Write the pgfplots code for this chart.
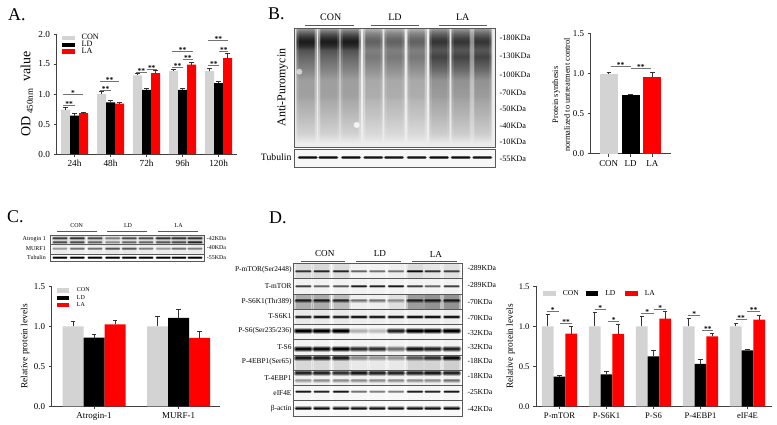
\documentclass[border=0pt]{standalone}
\usepackage{fontspec}
\setmainfont{Liberation Serif}
\usepackage{pgfplots}
\pgfplotsset{compat=1.18}

\definecolor{congray}{HTML}{D3D3D3}
\definecolor{lared}{HTML}{FF0000}
\definecolor{axc}{gray}{0.25}
\definecolor{sigc}{gray}{0.45}
\definecolor{framec}{gray}{0.35}

\newcommand\fs[1]{\fontsize{#1}{#1}\selectfont}

% gel lane profiles for the puromycin blot, 25bp..75bp is bottom..top of the lane
\pgfdeclareverticalshading{laneCON}{100bp}{gray(0bp)=(.93); gray(25bp)=(.93); gray(26.7bp)=(.93); gray(30.9bp)=(.82); gray(39.3bp)=(.72); gray(44.9bp)=(.66); gray(46.3bp)=(.63); gray(53.3bp)=(.62); gray(57.5bp)=(.52); gray(60.3bp)=(.46); gray(63.1bp)=(.40); gray(65.9bp)=(.32); gray(67.5bp)=(.18); gray(69.4bp)=(.10); gray(71bp)=(.18); gray(72.9bp)=(.35); gray(75bp)=(.60); gray(100bp)=(.60)}
\pgfdeclareverticalshading{laneLD}{100bp}{gray(0bp)=(.93); gray(25bp)=(.93); gray(26.7bp)=(.93); gray(30.9bp)=(.85); gray(39.3bp)=(.76); gray(44.9bp)=(.71); gray(46.3bp)=(.68); gray(53.3bp)=(.66); gray(57.5bp)=(.57); gray(60.3bp)=(.52); gray(63.1bp)=(.47); gray(65.9bp)=(.50); gray(67.5bp)=(.44); gray(69.4bp)=(.38); gray(71bp)=(.42); gray(72.9bp)=(.52); gray(75bp)=(.70); gray(100bp)=(.70)}
\pgfdeclareverticalshading{laneLA}{100bp}{gray(0bp)=(.92); gray(25bp)=(.92); gray(26.7bp)=(.92); gray(30.9bp)=(.80); gray(39.3bp)=(.70); gray(44.9bp)=(.64); gray(46.3bp)=(.61); gray(53.3bp)=(.57); gray(57.5bp)=(.42); gray(60.3bp)=(.34); gray(63.1bp)=(.26); gray(65.9bp)=(.34); gray(67.5bp)=(.28); gray(69.4bp)=(.20); gray(71bp)=(.26); gray(72.9bp)=(.40); gray(75bp)=(.60); gray(100bp)=(.60)}

% blurred band: three strokes of growing width
\newcommand\band[5]{%
  \definecolor{bandc}{gray}{#5}%
  \draw[bandc,line cap=round,opacity=.30,line width=#4*1.9bp] (#1-#3,#2)--(#1+#3,#2);
  \draw[bandc,line cap=round,opacity=.55,line width=#4*1.3bp] (#1-#3,#2)--(#1+#3,#2);
  \draw[bandc,line cap=round,line width=#4*.7bp] (#1-#3,#2)--(#1+#3,#2);
}
% #1 y, #2 half width, #3 thickness, #4 nine grays; lane centres in \lanes
\newcommand\bandrow[4]{%
  \foreach \g [count=\i from 0] in {#4} {
    \pgfmathsetmacro\cx{\lanes[\i]}
    \band{\cx}{#1}{#2}{#3}{\g}
  }
}
% #1 top, #2 bottom, #3 half width, #4 nine grays
\newcommand\rowbg[4]{%
  \foreach \g [count=\i from 0] in {#4} {
    \pgfmathsetmacro\cx{\lanes[\i]}
    \definecolor{bandc}{gray}{\g}
    \fill[bandc,opacity=.5] (\cx-#3-1,#1) rectangle (\cx+#3+1,#2);
    \fill[bandc,opacity=.7] (\cx-#3+1,#1) rectangle (\cx+#3-1,#2);
  }
}
\newcommand\blane[3]{%
  \shade[shading=#1,opacity=.5] (#2-1.5,28.3) rectangle (#3+1.5,147.3);
  \shade[shading=#1,opacity=.7] (#2,28.3) rectangle (#3,147.3);
  \shade[shading=#1] (#2+1.5,28.3) rectangle (#3-1.5,147.3);
}

\newcommand\sig[4]{\draw[sigc,line width=.6bp] (axis cs:#1,#3)--(axis cs:#2,#3) node[midway,above=-1.5bp,inner sep=0pt,text=black,font=\fs{7.5}\bfseries]{#4};}

\pgfplotsset{
  barax/.style={scale only axis,clip=false,axis x line=bottom,axis y line=left,
    axis line style={-,line width=.8bp,color=axc},
    tick style={line width=.7bp,color=axc},
    major tick length=3bp,tick align=outside,ymin=0,
    /pgf/number format/assume math mode=true,
    /pgf/number format/fixed,/pgf/number format/fixed zerofill,/pgf/number format/precision=1,
    legend cell align=left,
    legend image code/.code={\fill[##1,draw=none] (0bp,-2.2bp) rectangle (12.5bp,2.2bp);},
  },
  errs/.style={draw=none,error bars/y dir=plus,error bars/y explicit,
    error bars/error bar style={line width=.7bp,color=black!80},
    error bars/error mark options={rotate=90,mark size=2.2bp,line width=.7bp,color=black!80}},
}

\begin{document}
\begin{tikzpicture}
\path[use as bounding box] (0,0) rectangle (777bp,-425bp);

% ---------- A ----------
\begin{axis}[ybar=0pt,barax,at={(56.5bp,-154bp)},anchor=south west,width=180.5bp,height=120bp,
  ymax=2,ytick={0,0.5,1,1.5,2},xmin=-0.5,xmax=4.51,xtick={0,...,4},
  xticklabels={24h,48h,72h,96h,120h},tick label style={font=\fs{9.3}},
  ylabel={OD\,\raisebox{-2.5bp}{\fs{9}450nm}\ \ value},
  ylabel style={at={(axis description cs:-0.165,0.5)},anchor=center,font=\fs{14}},
  bar width=9bp,
  legend style={at={(0.03,1.005)},anchor=north west,draw=none,fill=none,inner sep=0pt,font=\fs{8.2},row sep=-1.6bp,
    nodes={inner xsep=3bp,inner ysep=0.8bp}},
]
\addplot[errs,fill=congray] coordinates {(0,0.74)+-(0,0.03) (1,1.00)+-(0,0.05) (2,1.31)+-(0,0.03) (3,1.38)+-(0,0.03) (4,1.38)+-(0,0.05)};
\addlegendentry{\hspace{4bp}CON}
\addplot[errs,fill=black] coordinates {(0,0.64)+-(0,0.03) (1,0.86)+-(0,0.03) (2,1.07)+-(0,0.03) (3,1.07)+-(0,0.03) (4,1.18)+-(0,0.03)};
\addlegendentry{\hspace{4bp}LD}
\addplot[errs,fill=lared] coordinates {(0,0.68)+-(0,0.01) (1,0.84)+-(0,0.02) (2,1.35)+-(0,0.04) (3,1.49)+-(0,0.03) (4,1.60)+-(0,0.07)};
\addlegendentry{\hspace{4bp}LA}
\sig{-0.31}{0.014}{0.817}{**}
\sig{-0.31}{0.227}{0.99}{*}
\sig{0.708}{1.014}{1.055}{**}
\sig{0.708}{1.236}{1.205}{**}
\sig{1.708}{2.005}{1.355}{**}
\sig{2.005}{2.282}{1.41}{**}
\sig{2.718}{3.005}{1.44}{**}
\sig{3.005}{3.282}{1.578}{**}
\sig{2.718}{3.282}{1.717}{**}
\sig{3.718}{4.014}{1.483}{**}
\sig{4.014}{4.273}{1.717}{**}
\sig{3.718}{4.273}{1.9}{**}
\end{axis}

% ---------- B bars ----------
\begin{axis}[ybar,barax,at={(590.7bp,-153.7bp)},anchor=south west,width=80bp,height=120bp,
  ymax=1.5,ytick={0,0.5,1,1.5},xmin=-0.826,xmax=2.84,xtick={0,1,2},
  xticklabels={CON,LD,LA},tick label style={font=\fs{9}},bar width=18bp,
  ylabel={\shortstack{Protein synthesis\\[1bp]normalized to untreatment control}},
  ylabel style={at={(axis description cs:-0.37,0.49)},anchor=center,font=\fs{8.4}},
]
\addplot[errs,fill=congray,bar shift=0bp] coordinates {(0,1.00)+-(0,0.015)};
\addplot[errs,fill=black,bar shift=0bp] coordinates {(1,0.735)+-(0,0.01)};
\addplot[errs,fill=lared,bar shift=0bp] coordinates {(2,0.965)+-(0,0.055)};
\sig{0.09}{1.008}{1.09}{**}
\sig{1.02}{1.925}{1.0625}{**}
\end{axis}

% ---------- C bars ----------
\begin{axis}[ybar=0pt,barax,at={(51.7bp,-406.3bp)},anchor=south west,width=168.3bp,height=120bp,
  ymax=1.5,ytick={0,0.5,1,1.5},xmin=-0.5,xmax=1.488,xtick={0,1},
  xticklabels={Atrogin-1,MURF-1},tick label style={font=\fs{9}},bar width=21bp,
  ylabel={Relative protein levels},
  ylabel style={at={(axis description cs:-0.158,0.5)},anchor=center,font=\fs{9.4}},
  legend style={at={(0.03,0.995)},anchor=north west,draw=none,fill=none,inner sep=0pt,font=\fs{6},row sep=0.3bp,
    nodes={inner xsep=3.5bp,inner ysep=0.8bp}},
]
\addplot[errs,fill=congray] coordinates {(0,1.00)+-(0,0.06) (1,1.00)+-(0,0.125)};
\addlegendentry{\hspace{4bp}CON}
\addplot[errs,fill=black] coordinates {(0,0.86)+-(0,0.04) (1,1.105)+-(0,0.11)};
\addlegendentry{\hspace{4bp}LD}
\addplot[errs,fill=lared] coordinates {(0,1.025)+-(0,0.055) (1,0.855)+-(0,0.08)};
\addlegendentry{\hspace{4bp}LA}
\end{axis}

% ---------- D bars ----------
\begin{axis}[ybar=0pt,barax,at={(536bp,-406.3bp)},anchor=south west,width=235.7bp,height=120bp,
  ymax=1.5,ytick={0,0.5,1,1.5},xmin=-0.5,xmax=4.515,xtick={0,...,4},
  xticklabels={P-mTOR,P-S6K1,P-S6,P-4EBP1,eIF4E},tick label style={font=\fs{8.6}},bar width=11.7bp,
  ylabel={Relative protein levels},
  ylabel style={at={(axis description cs:-0.108,0.5)},anchor=center,font=\fs{9.4}},
  legend columns=3,
  legend style={at={(0.03,0.975)},anchor=north west,draw=none,fill=none,inner sep=0pt,font=\fs{7.6},
    /tikz/column 2/.style={column sep=3.5bp},/tikz/column 4/.style={column sep=6.5bp},
    nodes={inner xsep=3.5bp,inner ysep=0.8bp}},
]
\addplot[errs,fill=congray] coordinates {(0,1)+-(0,0.15) (1,1)+-(0,0.18) (2,1)+-(0,0.12) (3,1)+-(0,0.10) (4,1)+-(0,0.04)};
\addlegendentry{\hspace{3.5bp}CON}
\addplot[errs,fill=black] coordinates {(0,0.37)+-(0,0.02) (1,0.40)+-(0,0.04) (2,0.625)+-(0,0.07) (3,0.53)+-(0,0.06) (4,0.70)+-(0,0.015)};
\addlegendentry{\hspace{3.5bp}LD}
\addplot[errs,fill=lared] coordinates {(0,0.91)+-(0,0.09) (1,0.905)+-(0,0.125) (2,1.095)+-(0,0.095) (3,0.875)+-(0,0.04) (4,1.085)+-(0,0.055)};
\addlegendentry{\hspace{3.5bp}LA}
\sig{-0.273}{-0.011}{1.183}{*}
\sig{0.011}{0.266}{1.0375}{**}
\sig{0.748}{0.989}{1.217}{*}
\sig{1.039}{1.273}{1.067}{*}
\sig{1.734}{2.004}{1.158}{*}
\sig{2.018}{2.266}{1.2125}{*}
\sig{2.741}{2.989}{1.142}{*}
\sig{3.039}{3.273}{0.95}{**}
\sig{3.748}{3.982}{1.0875}{**}
\sig{3.996}{4.266}{1.19}{**}
\end{axis}

% ---------- blots and panel text, in image pixels with y downward ----------
\begin{scope}[x=1bp,y=-1bp]
\node[anchor=base west,inner sep=0pt,font=\fs{18}] at (8,20) {A.};
\node[anchor=base west,inner sep=0pt,font=\fs{18}] at (268,19) {B.};
\node[anchor=base west,inner sep=0pt,font=\fs{18}] at (7,222) {C.};
\node[anchor=base west,inner sep=0pt,font=\fs{18}] at (269,223) {D.};

% B: puromycin blot
\fill[gray!14] (294,28.3) rectangle (495,147.3);
\blane{laneCON}{297.3}{315}
\blane{laneCON}{320}{338.3}
\blane{laneCON}{341.7}{359}
\blane{laneLD}{365}{381.7}
\blane{laneLD}{385.7}{403.3}
\blane{laneLD}{408.3}{425}
\blane{laneLA}{430.7}{448.3}
\blane{laneLA}{452.3}{470}
\blane{laneLA}{474}{490.7}
\fill[white,opacity=.6] (299.3,71.7) circle (3);
\fill[white,opacity=.8] (356.7,125) circle (3);
\draw[framec,line width=.8bp] (294,28.3) rectangle (495,147.3);
\fill[gray!6] (294,149) rectangle (495,167.3);
\def\lanes{{307.7,328.3,351,373.3,394,416.7,439,460.7,482.3}}
\bandrow{157.5}{8.5}{2}{.05,.05,.05,.08,.08,.08,.05,.05,.08}
\draw[framec,line width=.8bp] (294,149) rectangle (495,167.3);
\foreach \a/\b in {305/354,370.7/419.3,439.3/487.3} \draw[framec,line width=.9bp] (\a,25)--(\b,25);
\node[font=\fs{10}] at (330.7,17.3) {CON};
\node[font=\fs{10}] at (395,17.3) {LD};
\node[font=\fs{10}] at (462.7,17.3) {LA};
\foreach \t/\y in {180/37.3,130/56,100/74.7,70/92.3,50/108.3,40/126,10/141.7,55/159}
  \node[anchor=west,inner sep=0pt,font=\fs{8.3}] at (499.3,\y) {-\t KDa};
\node[rotate=90,font=\fs{12}] at (282.7,87.5) {Anti-Puromycin};
\node[anchor=east,inner sep=0pt,font=\fs{9.8}] at (291.7,157.3) {Tubulin};

% C: small blot
\fill[gray!4] (50.7,235) rectangle (204,261.7);
\def\lanes{{60,77.3,95,112.7,129.3,146,163.3,179,195}}
\rowbg{235}{244.3}{7.5}{.8,.78,.8,.86,.84,.84,.78,.76,.76}
\bandrow{238.3}{6.5}{1.7}{.25,.2,.3,.5,.3,.3,.2,.2,.2}
\bandrow{242.3}{6.5}{1.4}{.3,.3,.4,.55,.4,.4,.35,.3,.15}
\rowbg{244.3}{254}{7.5}{.92,.92,.92,.9,.9,.92,.92,.92,.92}
\bandrow{248.7}{6.5}{1.5}{.6,.45,.45,.35,.35,.5,.6,.45,.5}
\bandrow{257.7}{6.5}{1.4}{0,0,0,0,0,0,0,0,0}
\foreach \y in {235,244.3,254,261.7} \draw[framec,line width=.6bp] (50.7,\y)--(204,\y);
\foreach \x in {50.7,204} \draw[framec,line width=.6bp] (\x,235)--(\x,261.7);
\foreach \a/\b in {57.3/97.3,107.3/147.3,157.7/198.3} \draw[framec,line width=.7bp] (\a,231)--(\b,231);
\node[font=\fs{6}] at (76.7,225.7) {CON};
\node[font=\fs{6}] at (128,225.7) {LD};
\node[font=\fs{6}] at (178.7,225.7) {LA};
\foreach \t/\y in {Atrogin 1/239.5,MURF1/248.7,Tubulin/257.7}
  \node[anchor=east,inner sep=0pt,font=\fs{6}] at (46,\y) {\t};
\foreach \t/\y in {42/239,40/248,55/257.5}
  \node[anchor=west,inner sep=0pt,font=\fs{6}] at (206.7,\y) {-\t KDa};

% D: signalling blots
\def\lanes{{303.3,321.7,341,359,377.3,396,415,432.7,451.7}}
\rowbg{263.3}{278.7}{8.5}{.84,.82,.84,.94,.94,.92,.84,.88,.86}
\bandrow{271.3}{7}{1.7}{.2,.15,.15,.4,.45,.45,.05,.2,.25}
\rowbg{278.7}{294}{8.5}{.94,.94,.94,.94,.94,.94,.94,.94,.94}
\bandrow{286.3}{7}{1.6}{.25,.4,.35,.12,.15,.1,.25,.4,.25}
\rowbg{294}{309}{8.5}{.62,.62,.7,.92,.92,.86,.55,.5,.5}
\bandrow{300.7}{7}{2.2}{.1,.1,.15,.45,.45,.55,.12,.1,.1}
\rowbg{309}{324}{8.5}{.9,.9,.9,.92,.92,.92,.92,.92,.92}
\bandrow{317}{7}{2}{.15,.1,.15,.1,.12,.12,.08,.08,.1}
\rowbg{324}{339}{8.5}{.95,.95,.95,.96,.96,.96,.95,.95,.95}
\bandrow{330.7}{7}{3}{0,0,0,.7,.75,.15,0,0,0}
\rowbg{339}{355}{8.5}{.94,.94,.94,.94,.94,.94,.94,.94,.94}
\bandrow{349}{7}{3}{.05,.05,.02,.2,.2,.45,.1,.15,.15}
\rowbg{355}{370}{8.5}{.82,.82,.82,.9,.9,.9,.8,.8,.78}
\bandrow{358.3}{7}{2.8}{.1,.12,.12,.55,.6,.6,.35,.2,.05}
\rowbg{370}{385}{8.5}{.93,.93,.93,.93,.93,.93,.93,.93,.93}
\bandrow{373.3}{7}{2.8}{.15,.15,.2,.1,.15,.15,.15,.1,.15}
\bandrow{380.7}{7}{2.2}{.6,.55,.55,.55,.55,.55,.55,.55,.45}
\rowbg{385}{400.7}{8.5}{.96,.96,.96,.97,.97,.97,.96,.96,.96}
\bandrow{391.7}{7}{1.6}{.1,.15,.1,.45,.5,.5,.12,.15,.1}
\rowbg{400.7}{416}{8.5}{.97,.97,.97,.97,.97,.97,.97,.97,.97}
\bandrow{408.3}{7}{2}{.05,.05,.08,.08,.08,.08,.08,.08,.05}
\foreach \y in {263.3,278.7,294,309,324,339,355,370,385,400.7,416}
  \draw[framec,line width=.8bp] (293.3,\y)--(462.7,\y);
\foreach \x in {293.3,462.7} \draw[framec,line width=.8bp] (\x,263.3)--(\x,416);
\foreach \a/\b in {301/345.3,356/401,412.3/457.3} \draw[framec,line width=.9bp] (\a,261.3)--(\b,261.3);
\node[font=\fs{9.2}] at (324.7,254) {CON};
\node[font=\fs{9.2}] at (380,254) {LD};
\node[font=\fs{9.2}] at (436,254) {LA};
\foreach \t/\y in {P-mTOR(Ser2448)/270,T-mTOR/286,P-S6K1(Thr389)/301.7,T-S6K1/315.7,{P-S6(Ser235/236)}/330.7,T-S6/346.7,P-4EBP1(Ser65)/361.3,T-4EBP1/377.7,eIF4E/392.7,β-actin/408.3}
  \node[anchor=east,inner sep=0pt,font=\fs{7.4}] at (291.7,\y) {\t};
\foreach \t/\y in {289/267.7,289/285.3,70/301.7,70/318.3,32/333.3,32/347,18/361.3,18/375.7,25/392.3,42/409}
  \node[anchor=west,inner sep=0pt,font=\fs{7.7}] at (467.3,\y) {-\t KDa};
\end{scope}
\end{tikzpicture}
\end{document}
